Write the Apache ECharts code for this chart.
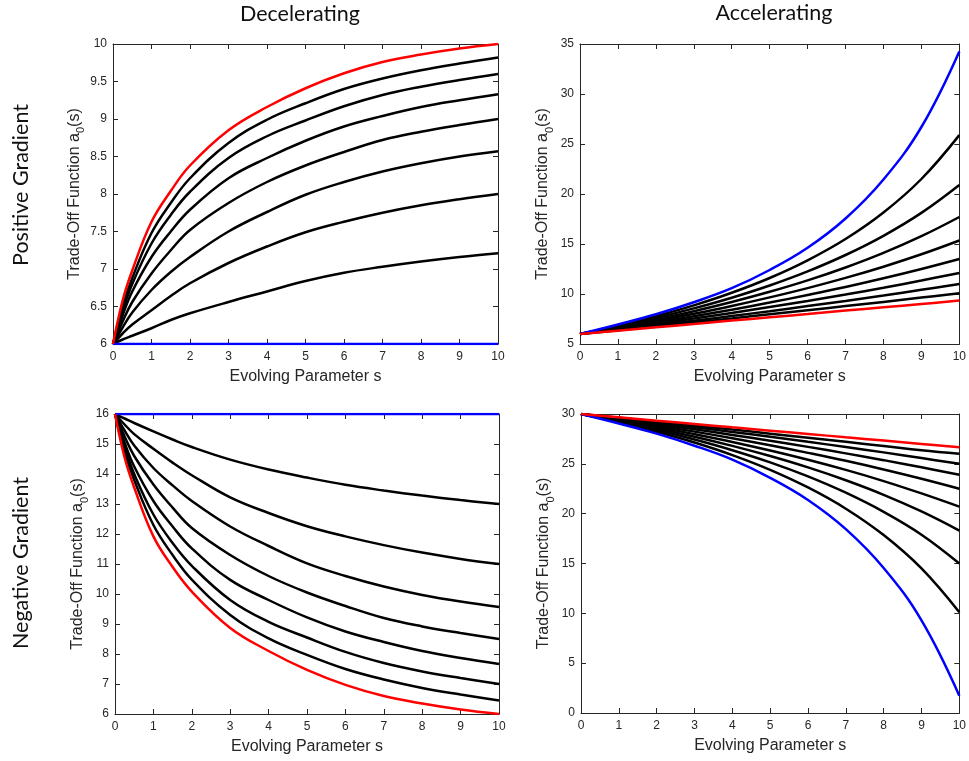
<!DOCTYPE html>
<html>
<head>
<meta charset="utf-8">
<script src="https://cdn.jsdelivr.net/npm/echarts@6/dist/echarts.min.js"></script>
<style>
  html, body { margin: 0; padding: 0; background: #ffffff; }
  #chart { width: 969px; height: 761px; }
</style>
</head>
<body>
<div id="chart"></div>
<script>
// Evolving parameter sample points
const sDec = [0, 0.25, 0.5, 1, 1.5, 2, 3, 4, 5, 6, 7, 8, 9, 10];
const sAcc = [0, 1, 2, 3, 4, 5, 6, 7, 8, 9, 10];

// Decelerating, positive gradient
const posDecRed = [6, 6.58, 6.98, 7.63, 8.04, 8.38, 8.85, 9.16, 9.41, 9.61, 9.76, 9.86, 9.94, 10.0];
const posDecBlue = [6, 6, 6, 6, 6, 6, 6, 6, 6, 6, 6, 6, 6, 6];
const posDecBlack = [
  [6, 6.5, 6.88, 7.48, 7.88, 8.21, 8.68, 8.99, 9.21, 9.4, 9.54, 9.65, 9.74, 9.82],
  [6, 6.44, 6.8, 7.34, 7.72, 8.03, 8.48, 8.77, 8.98, 9.17, 9.32, 9.43, 9.52, 9.6],
  [6, 6.38, 6.7, 7.16, 7.5, 7.79, 8.21, 8.48, 8.71, 8.9, 9.04, 9.16, 9.25, 9.33],
  [6, 6.3, 6.56, 6.94, 7.25, 7.52, 7.88, 8.16, 8.38, 8.56, 8.72, 8.83, 8.92, 9.0],
  [6, 6.22, 6.42, 6.72, 6.96, 7.16, 7.5, 7.76, 7.99, 8.16, 8.3, 8.41, 8.5, 8.57],
  [6, 6.14, 6.26, 6.45, 6.64, 6.81, 7.08, 7.3, 7.49, 7.63, 7.75, 7.85, 7.93, 8.0],
  [6, 6.06, 6.11, 6.21, 6.32, 6.41, 6.56, 6.7, 6.84, 6.95, 7.03, 7.1, 7.16, 7.21]
];

// Decelerating, negative gradient
const negDecRed = [16, 14.55, 13.55, 11.92, 10.9, 10.08, 8.87, 8.1, 7.47, 6.97, 6.6, 6.35, 6.15, 6.0];
const negDecBlue = [16, 16, 16, 16, 16, 16, 16, 16, 16, 16, 16, 16, 16, 16];
const negDecBlack = [
  [16, 15.85, 15.7, 15.42, 15.15, 14.9, 14.48, 14.15, 13.88, 13.64, 13.45, 13.28, 13.13, 13.0],
  [16, 15.65, 15.33, 14.84, 14.38, 13.96, 13.22, 12.7, 12.26, 11.92, 11.63, 11.38, 11.17, 11.0],
  [16, 15.45, 14.95, 14.2, 13.62, 13.1, 12.25, 11.6, 11.02, 10.6, 10.25, 9.97, 9.75, 9.57],
  [16, 15.25, 14.6, 13.65, 12.88, 12.2, 11.3, 10.6, 10.05, 9.6, 9.2, 8.92, 8.7, 8.5],
  [16, 15.05, 14.25, 13.1, 12.25, 11.52, 10.47, 9.8, 9.22, 8.75, 8.4, 8.1, 7.87, 7.67],
  [16, 14.9, 14.0, 12.65, 11.7, 10.94, 9.8, 9.07, 8.55, 8.07, 7.7, 7.42, 7.2, 7.0],
  [16, 14.75, 13.8, 12.3, 11.3, 10.48, 9.3, 8.52, 7.97, 7.5, 7.15, 6.87, 6.65, 6.45]
];

// Accelerating, positive gradient
const posAccRed = [6, 6.33, 6.67, 7.0, 7.34, 7.67, 8.0, 8.34, 8.67, 9.0, 9.34];
const posAccBlue = [6, 6.95, 7.97, 9.18, 10.58, 12.4, 14.62, 17.55, 21.45, 26.7, 34.26];
const posAccBlack = [
  [6, 6.83, 7.78, 8.86, 10.12, 11.6, 13.37, 15.5, 18.15, 21.5, 25.89],
  [6, 6.76, 7.61, 8.56, 9.63, 10.85, 12.26, 13.9, 15.82, 18.11, 20.9],
  [6, 6.69, 7.45, 8.28, 9.2, 10.22, 11.36, 12.65, 14.11, 15.78, 17.7],
  [6, 6.62, 7.29, 8.02, 8.8, 9.66, 10.59, 11.61, 12.73, 13.97, 15.35],
  [6, 6.56, 7.14, 7.77, 8.43, 9.14, 9.9, 10.7, 11.57, 12.5, 13.5],
  [6, 6.49, 7.0, 7.54, 8.1, 8.69, 9.3, 9.95, 10.63, 11.35, 12.1],
  [6, 6.43, 6.87, 7.32, 7.8, 8.28, 8.79, 9.31, 9.85, 10.42, 11.0],
  [6, 6.38, 6.77, 7.16, 7.56, 7.97, 8.38, 8.79, 9.21, 9.64, 10.07]
];

// Accelerating, negative gradient
const negAccRed = [30, 29.67, 29.33, 29.0, 28.66, 28.33, 28.0, 27.66, 27.33, 27.0, 26.66];
const negAccBlue = [30, 29.05, 28.03, 26.82, 25.42, 23.6, 21.38, 18.45, 14.55, 9.3, 1.74];
const negAccBlack = [
  [30, 29.17, 28.22, 27.14, 25.88, 24.4, 22.63, 20.5, 17.85, 14.5, 10.1],
  [30, 29.24, 28.39, 27.44, 26.37, 25.15, 23.74, 22.1, 20.18, 17.89, 15.0],
  [30, 29.31, 28.55, 27.72, 26.8, 25.78, 24.64, 23.35, 21.89, 20.22, 18.3],
  [30, 29.38, 28.71, 27.98, 27.2, 26.34, 25.41, 24.39, 23.27, 22.03, 20.7],
  [30, 29.44, 28.86, 28.23, 27.57, 26.86, 26.1, 25.3, 24.43, 23.5, 22.5],
  [30, 29.51, 29.0, 28.46, 27.9, 27.31, 26.7, 26.05, 25.37, 24.65, 23.9],
  [30, 29.57, 29.13, 28.68, 28.2, 27.72, 27.21, 26.69, 26.15, 25.58, 25.0],
  [30, 29.62, 29.23, 28.84, 28.44, 28.03, 27.62, 27.21, 26.79, 26.36, 26.0]
];

// Axis texts
const colTitles = ['Decelerating', 'Accelerating'];
const rowTitles = ['Positive Gradient', 'Negative Gradient'];
const xName = 'Evolving Parameter s';

const AXIS_COLOR = '#262626';
const LABEL_FONT = 'Arial, "Liberation Sans", sans-serif';
const TITLE_FONT = 'Lato, "Open Sans", sans-serif';

const panels = [
  { grid: { left: 113, top: 44, width: 385, height: 300 }, yMin: 6, yMax: 10, yStep: 0.5,
    s: sDec, red: posDecRed, blue: posDecBlue, black: posDecBlack },
  { grid: { left: 580, top: 44, width: 384, height: 300 }, yMin: 5, yMax: 35, yStep: 5,
    s: sAcc, red: posAccRed, blue: posAccBlue, black: posAccBlack },
  { grid: { left: 115, top: 414, width: 384, height: 300 }, yMin: 6, yMax: 16, yStep: 1,
    s: sDec, red: negDecRed, blue: negDecBlue, black: negDecBlack },
  { grid: { left: 581, top: 414, width: 384, height: 299 }, yMin: 0, yMax: 30, yStep: 5,
    s: sAcc, red: negAccRed, blue: negAccBlue, black: negAccBlack }
];

const grids = [], xAxes = [], yAxes = [], series = [];

function pairs(s, v) { return s.map((x, i) => [x, v[i]]); }

panels.forEach((p, g) => {
  grids.push(Object.assign({ containLabel: false }, p.grid));
  const common = {
    gridIndex: g, type: 'value',
    axisLine: { show: true, onZero: false, lineStyle: { color: AXIS_COLOR, width: 1 } },
    axisTick: { show: true, inside: true, length: 5, lineStyle: { color: AXIS_COLOR } },
    splitLine: { show: false }
  };
  // bottom + top x axes (box with inward ticks)
  xAxes.push(Object.assign({}, common, {
    position: 'bottom', min: 0, max: 10, interval: 1,
    axisLabel: { color: AXIS_COLOR, fontSize: 12, fontFamily: LABEL_FONT, margin: 7 },
    name: xName, nameLocation: 'middle', nameGap: 25,
    nameTextStyle: { color: AXIS_COLOR, fontSize: 16, fontFamily: LABEL_FONT }
  }));
  xAxes.push(Object.assign({}, common, {
    position: 'top', min: 0, max: 10, interval: 1, axisLabel: { show: false }
  }));
  // left + right y axes
  yAxes.push(Object.assign({}, common, {
    position: 'left', min: p.yMin, max: p.yMax, interval: p.yStep,
    axisLabel: { color: AXIS_COLOR, fontSize: 12, fontFamily: LABEL_FONT, margin: 6 },
    name: '{a|Trade-Off Function a}{sub|0}{a|(s)}', nameLocation: 'middle', nameGap: 26,
    nameTextStyle: {
      color: AXIS_COLOR, fontSize: 16, fontFamily: LABEL_FONT,
      rich: {
        a: { color: AXIS_COLOR, fontSize: 16, fontFamily: LABEL_FONT, lineHeight: 19, verticalAlign: 'top' },
        sub: { color: AXIS_COLOR, fontSize: 11, fontFamily: LABEL_FONT, lineHeight: 11,
               padding: [9, 0, 0, 0], verticalAlign: 'top' }
      }
    }
  }));
  yAxes.push(Object.assign({}, common, {
    position: 'right', min: p.yMin, max: p.yMax, interval: p.yStep, axisLabel: { show: false }
  }));

  const base = {
    type: 'line', xAxisIndex: 2 * g, yAxisIndex: 2 * g, showSymbol: false, symbol: 'none',
    smooth: 0.4, animation: false, silent: true
  };
  p.black.forEach((v, i) => {
    series.push(Object.assign({}, base, {
      name: 'black' + g + '_' + i, data: pairs(p.s, v),
      lineStyle: { color: '#000000', width: 2.5 }
    }));
  });
  series.push(Object.assign({}, base, {
    name: 'blue' + g, data: pairs(p.s, p.blue), lineStyle: { color: '#0000ff', width: 2.5 }
  }));
  series.push(Object.assign({}, base, {
    name: 'red' + g, data: pairs(p.s, p.red), lineStyle: { color: '#ff0000', width: 2.5 }
  }));
});

const titleStyle = { font: '21.5px ' + TITLE_FONT, fill: '#111', textAlign: 'center', textVerticalAlign: 'middle' };
const graphics = [
  { type: 'text', x: 300, y: 14, style: Object.assign({ text: colTitles[0] }, titleStyle) },
  { type: 'text', x: 774, y: 13, style: Object.assign({ text: colTitles[1] }, titleStyle) },
  { type: 'text', x: 21, y: 185, rotation: Math.PI / 2, style: Object.assign({ text: rowTitles[0] }, titleStyle) },
  { type: 'text', x: 21, y: 563, rotation: Math.PI / 2, style: Object.assign({ text: rowTitles[1] }, titleStyle) }
];

const chart = echarts.init(document.getElementById('chart'), null, { renderer: 'canvas' });
chart.setOption({
  backgroundColor: '#ffffff',
  animation: false,
  grid: grids,
  xAxis: xAxes,
  yAxis: yAxes,
  series: series,
  graphic: graphics
});
</script>
</body>
</html>
